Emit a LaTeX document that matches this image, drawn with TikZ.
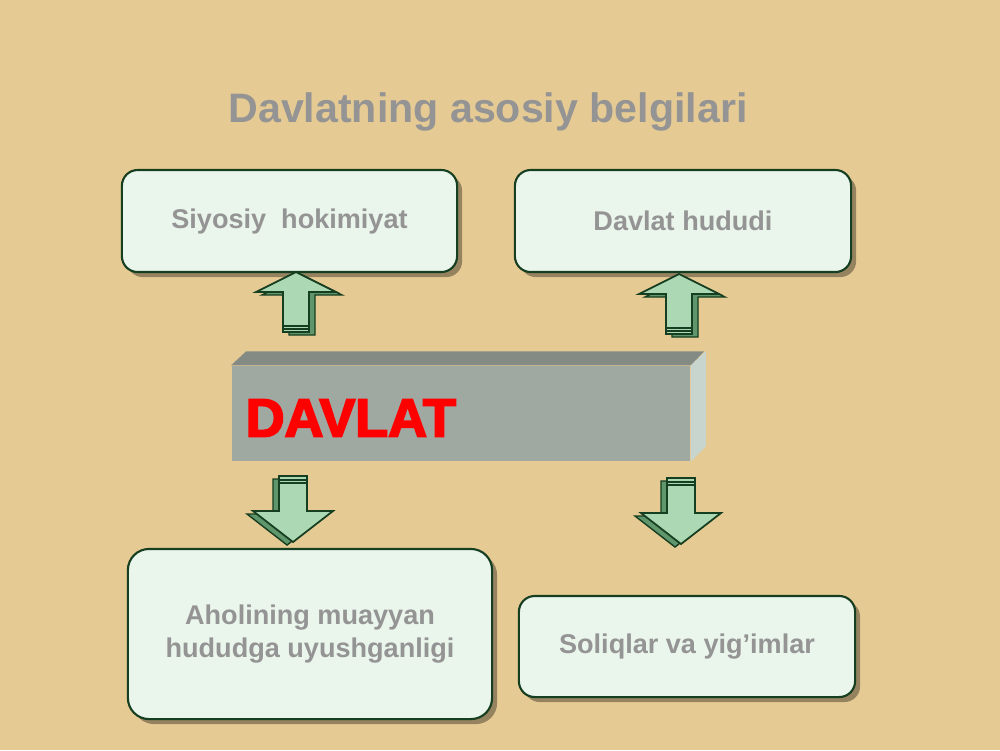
\documentclass[tikz,border=0pt]{standalone}
\usepackage{fontspec}
\setmainfont{Liberation Sans}
\newfontfamily\heavyfont[FakeBold=3.5]{Liberation Sans Bold}
\usetikzlibrary{shadows}

\definecolor{parchment}{RGB}{230,202,148}
\definecolor{boxfill}{RGB}{234,245,236}
\definecolor{boxline}{RGB}{22,62,32}
\definecolor{labelgray}{RGB}{148,148,148}
\definecolor{arrowlight}{RGB}{172,216,180}
\definecolor{arrowdark}{RGB}{96,150,108}
\definecolor{barfront}{RGB}{160,168,162}
\definecolor{bartop}{RGB}{132,138,132}
\definecolor{barside}{RGB}{200,212,206}

\tikzset{
  signbox/.style={draw=boxline, line width=0.6pt, fill=boxfill, rounded corners=4.5pt,
    drop shadow={shadow xshift=0.05cm, shadow yshift=-0.05cm, fill=black, opacity=0.35},
    font=\bfseries\fontsize{7.7}{9.4}\selectfont, text=labelgray, align=center},
  uparr/.pic={
    \fill[arrowdark, draw=boxline, line width=0.4pt] (6,3) -- (46,23) -- (19,23) -- (19,63) -- (-7,63) -- (-7,23) -- (-34,23) -- cycle;
    \draw[boxline, fill=arrowlight, line width=0.5pt] (0,0) -- (40,20) -- (13,20) -- (13,60) -- (-13,60) -- (-13,20) -- (-40,20) -- cycle;
    \draw[boxline, line width=0.3pt] (-13,54) -- (13,54) (-13,57) -- (13,57);
  },
  downarr/.pic={
    \fill[arrowdark, draw=boxline, line width=0.4pt] (-20,3) -- (8,3) -- (8,38) -- (34,38) -- (-6,69) -- (-46,38) -- (-20,38) -- cycle;
    \draw[boxline, fill=arrowlight, line width=0.5pt] (-14,0) -- (14,0) -- (14,35) -- (40,35) -- (0,66) -- (-40,35) -- (-14,35) -- cycle;
    \draw[boxline, line width=0.3pt] (-14,4) -- (14,4) (-14,7) -- (14,7);
  }
}

\begin{document}
\begin{tikzpicture}[x=0.01cm, y=-0.01cm]
  \fill[parchment] (0,0) rectangle (1000,750);
  \useasboundingbox (0,0) rectangle (1000,750);

  \node[text=labelgray, font=\bfseries\fontsize{11.7}{14}\selectfont] (title) at (488,112) {Davlatning asosiy belgilari};

  \node[signbox, minimum width=3.35cm, minimum height=1.02cm] (siyosiy) at (289.5,221) {\raisebox{-0.8pt}{Siyosiy\ \ hokimiyat}};
  \node[signbox, minimum width=3.36cm, minimum height=1.02cm] (hudud) at (683,221) {\raisebox{-0.8pt}{Davlat hududi}};
  \node[signbox, minimum width=3.64cm, minimum height=1.70cm, rounded corners=6pt] (aholi) at (310,634) {Aholining muayyan\\hududga uyushganligi};
  \node[signbox, minimum width=3.36cm, minimum height=1.01cm] (soliq) at (687,646.5) {\raisebox{-0.8pt}{Soliqlar va yig’imlar}};

  % DAVLAT bar
  \node[fill=barfront, minimum width=4.58cm, minimum height=0.95cm, inner sep=0pt] (davlat) at (461,413.5) {};
  \fill[bartop] (davlat.north west) -- ++(15,-14) -- ++(458,0) -- (davlat.north east) -- cycle;
  \fill[barside] (davlat.north east) -- ++(15,-14) -- ++(0,95) -- (davlat.south east) -- cycle;
  \node[anchor=west, text=red, font=\heavyfont\fontsize{15.3}{18}\selectfont, inner sep=0pt] (davlattext) at (245,418) {DAVLAT};

  \pic at (296,272) {uparr};
  \pic at (679,274) {uparr};
  \pic at (293,476) {downarr};
  \pic at (681,478) {downarr};
\end{tikzpicture}
\end{document}
